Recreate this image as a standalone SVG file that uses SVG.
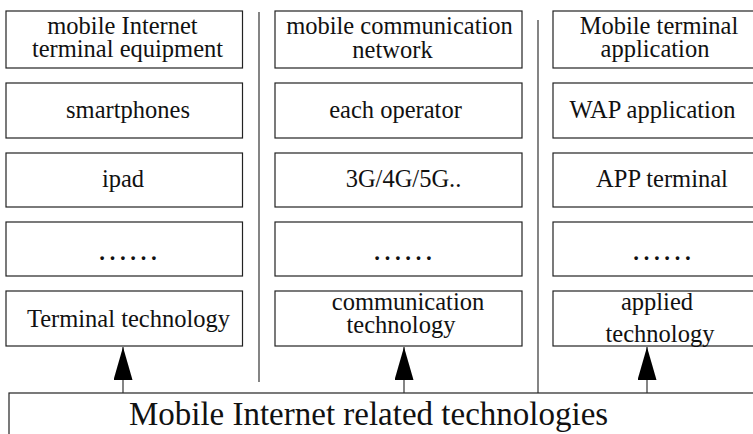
<svg xmlns="http://www.w3.org/2000/svg" width="753" height="434" viewBox="0 0 753 434">
<style>
.box{fill:#fff;stroke:#222;stroke-width:1.2}
.t{font-family:"Liberation Serif","Times New Roman",serif;font-size:24.5px;fill:#111;text-anchor:middle}
.d{font-family:"Liberation Serif","Times New Roman",serif;font-size:31px;fill:#111;text-anchor:middle}
.big{font-family:"Liberation Serif","Times New Roman",serif;font-size:33px;fill:#111;text-anchor:middle}
.ln{stroke:#333;stroke-width:1.2;fill:none}
</style>
<defs>
<marker id="ah" markerWidth="33" markerHeight="19" refX="33" refY="9.5" orient="auto" markerUnits="userSpaceOnUse" viewBox="0 0 33 19">
<path d="M0,0 L33,9.5 L0,19 Z" fill="#000"/>
</marker>
</defs>
<rect width="753" height="434" fill="#fff"/>
<g id="dividers">
<line class="ln" x1="259" y1="12" x2="259" y2="382"/>
<line class="ln" x1="538" y1="20" x2="538" y2="393"/>
</g>
<g id="col1">
<g id="n-c1r1"><rect class="box" x="6" y="11" width="236.5" height="57"/><text class="t" x="122.5" y="34">mobile Internet</text><text class="t" x="127.5" y="57">terminal equipment</text></g>
<g id="n-c1r2"><rect class="box" x="6" y="83" width="236.5" height="55"/><text class="t" x="128" y="118">smartphones</text></g>
<g id="n-c1r3"><rect class="box" x="6" y="153" width="236.5" height="54"/><text class="t" x="123" y="187">ipad</text></g>
<g id="n-c1r4"><rect class="box" x="6" y="222" width="236.5" height="54"/><text class="d" x="128" y="260">……</text></g>
<g id="n-c1r5"><rect class="box" x="6" y="291" width="236.5" height="55"/><text class="t" x="128.5" y="327">Terminal technology</text></g>
</g>
<g id="col2">
<g id="n-c2r1"><rect class="box" x="275" y="11" width="247" height="57"/><text class="t" x="399.5" y="34">mobile communication</text><text class="t" x="392.5" y="58">network</text></g>
<g id="n-c2r2"><rect class="box" x="275" y="83" width="247" height="55"/><text class="t" x="395.5" y="118">each operator</text></g>
<g id="n-c2r3"><rect class="box" x="275" y="153" width="247" height="54"/><text class="t" x="403.5" y="187">3G/4G/5G..</text></g>
<g id="n-c2r4"><rect class="box" x="275" y="222" width="247" height="54"/><text class="d" x="403" y="260">……</text></g>
<g id="n-c2r5"><rect class="box" x="275" y="291" width="247" height="55"/><text class="t" x="408" y="310">communication</text><text class="t" x="401" y="333">technology</text></g>
</g>
<g id="col3">
<g id="n-c3r1"><rect class="box" x="553" y="11" width="210" height="57"/><text class="t" x="659" y="34">Mobile terminal</text><text class="t" x="655" y="57">application</text></g>
<g id="n-c3r2"><rect class="box" x="553" y="83" width="210" height="55"/><text class="t" x="652.5" y="118">WAP application</text></g>
<g id="n-c3r3"><rect class="box" x="553" y="153" width="210" height="54"/><text class="t" x="662" y="187">APP terminal</text></g>
<g id="n-c3r4"><rect class="box" x="553" y="222" width="210" height="54"/><text class="d" x="662" y="260">……</text></g>
<g id="n-c3r5"><rect class="box" x="553" y="291" width="210" height="55"/><text class="t" x="657" y="310">applied</text><text class="t" x="660" y="342">technology</text></g>
</g>
<g id="n-base"><rect class="box" x="9" y="393" width="760" height="60"/><text class="big" x="368.5" y="425">Mobile Internet related technologies</text></g>
<g id="connectors">
<line class="ln" x1="123" y1="393" x2="123" y2="347" marker-end="url(#ah)"/>
<line class="ln" x1="404" y1="393" x2="404" y2="347" marker-end="url(#ah)"/>
<line class="ln" x1="647" y1="393" x2="647" y2="347" marker-end="url(#ah)"/>
</g>
</svg>
